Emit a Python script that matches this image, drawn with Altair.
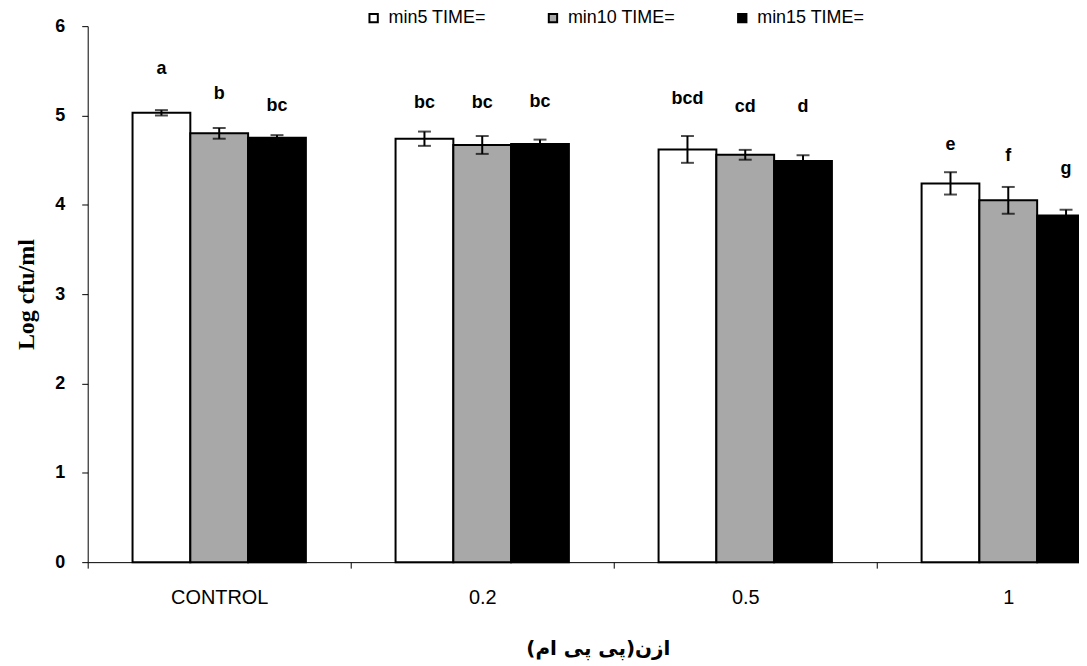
import altair as alt
import pandas as pd

categories = ["CONTROL", "0.2", "0.5", "1"]
series = ["min5 TIME=", "min10 TIME=", "min15 TIME="]

min5_vals = [5.03, 4.74, 4.62, 4.24]
min10_vals = [4.80, 4.67, 4.56, 4.05]
min15_vals = [4.75, 4.68, 4.49, 3.88]

min5_err = [0.03, 0.08, 0.15, 0.125]
min10_err = [0.06, 0.10, 0.055, 0.15]
min15_err = [0.03, 0.05, 0.065, 0.065]

min5_letters = ["a", "bc", "bcd", "e"]
min10_letters = ["b", "bc", "cd", "f"]
min15_letters = ["bc", "bc", "d", "g"]

# height (in Log cfu/ml units) at which each significance letter sits
min5_letter_y = [5.52, 5.14, 5.18, 4.67]
min10_letter_y = [5.24, 5.14, 5.09, 4.55]
min15_letter_y = [5.11, 5.15, 5.09, 4.40]

fills = ["#ffffff", "#a8a8a8", "#000000"]

x_title = "ازن(پی پی ام)"
y_title = "Log  cfu/ml"

rows = []
for s, vals, errs, lets, ly in [
    (series[0], min5_vals, min5_err, min5_letters, min5_letter_y),
    (series[1], min10_vals, min10_err, min10_letters, min10_letter_y),
    (series[2], min15_vals, min15_err, min15_letters, min15_letter_y),
]:
    for c, v, e, l, y in zip(categories, vals, errs, lets, ly):
        rows.append({"cat": c, "series": s, "value": v, "lo": v - e, "hi": v + e,
                     "letter": l, "ly": y})
df = pd.DataFrame(rows)

x_scale = alt.Scale(range=[0, 1056], paddingInner=0, paddingOuter=0)
x_enc = alt.X(
    "cat:N",
    sort=categories,
    scale=x_scale,
    axis=alt.Axis(
        title=x_title,
        titleFont="DejaVu Sans",
        titleFontSize=20,
        titleFontWeight="bold",
        titleColor="black",
        titleX=512,
        titleY=87,
        titleBaseline="middle",
        titleAnchor="middle",
        labelAngle=0,
        labelFont="Liberation Sans",
        labelFontSize=20,
        labelColor="black",
        labelPadding=20,
        tickBand="extent",
        tickSize=6,
        tickColor="black",
        domainColor="black",
        grid=False,
    ),
)
x_plain = alt.X("cat:N", sort=categories, scale=x_scale)
xoff = alt.XOffset("series:N", sort=series, scale=alt.Scale(paddingOuter=0.776, paddingInner=0))
y_scale = alt.Scale(domain=[0, 6], nice=False)
y_enc = alt.Y(
    "value:Q",
    scale=y_scale,
    axis=alt.Axis(
        title=y_title,
        values=[0, 1, 2, 3, 4, 5, 6],
        format="d",
        titleFont="Liberation Serif",
        titleFontSize=24,
        titleFontWeight="bold",
        titleColor="black",
        titlePadding=16,
        labelFont="Liberation Sans",
        labelFontSize=18,
        labelFontWeight="bold",
        labelColor="black",
        labelPadding=17,
        tickSize=6,
        tickColor="black",
        domainColor="black",
        grid=False,
    ),
)

base = alt.Chart(df)

bars = base.mark_bar(stroke="black", strokeWidth=2).encode(
    x=x_enc,
    xOffset=xoff,
    y=y_enc,
    fill=alt.Fill(
        "series:N",
        sort=series,
        scale=alt.Scale(domain=series, range=fills),
        legend=alt.Legend(
            title=None,
            orient="none",
            legendX=278,
            legendY=-17,
            direction="horizontal",
            symbolType="square",
            symbolSize=70,
            symbolStrokeColor="black",
            symbolStrokeWidth=2,
            labelFont="Liberation Sans",
            labelFontSize=18,
            labelColor="black",
            labelOffset=6,
            columnPadding=58,
            padding=0,
        ),
    ),
)

rule = base.mark_rule(color="black", strokeWidth=2).encode(
    x=x_plain, xOffset=xoff, y=alt.Y("lo:Q", scale=y_scale), y2="hi:Q"
)
cap_hi = base.mark_tick(color="black", thickness=2, size=13).encode(
    x=x_plain, xOffset=xoff, y=alt.Y("hi:Q", scale=y_scale)
)
cap_lo = base.mark_tick(color="black", thickness=2, size=13).encode(
    x=x_plain, xOffset=xoff, y=alt.Y("lo:Q", scale=y_scale)
)
letters = base.mark_text(
    font="Liberation Sans", fontSize=18, fontWeight="bold", color="black", baseline="middle"
).encode(x=x_plain, xOffset=xoff, y=alt.Y("ly:Q", scale=y_scale), text="letter:N")

chart = (
    alt.layer(bars, rule, cap_hi, cap_lo, letters)
    .properties(
        width=995,
        height=538,
        autosize=alt.AutoSizeParams(type="none"),
        padding={"left": 80, "top": 17, "right": 0, "bottom": 99},
        background="white",
    )
    .configure_view(stroke=None)
)

chart.save("out.html", embed_options={"renderer": "svg", "actions": False})
